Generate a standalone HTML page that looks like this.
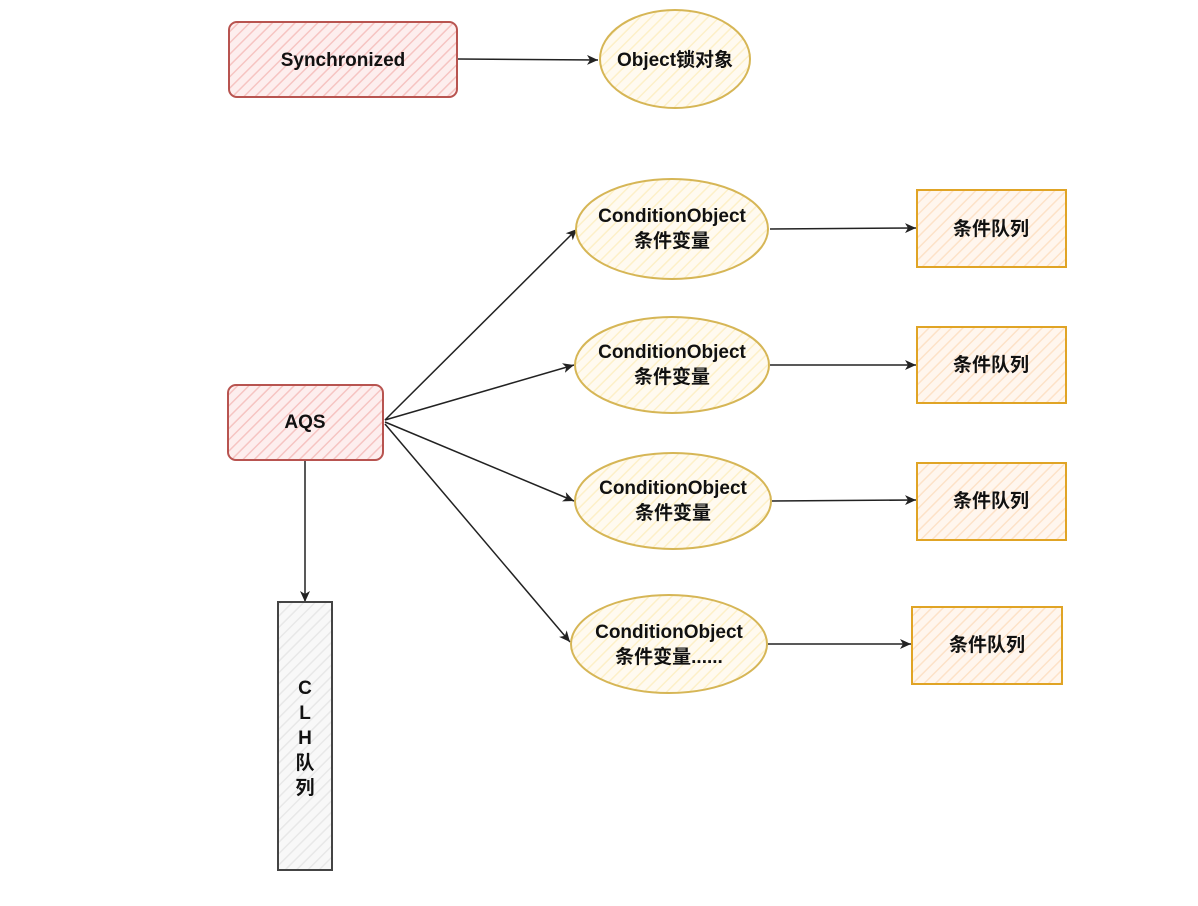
<!DOCTYPE html>
<html><head><meta charset="utf-8"><style>
html,body{margin:0;padding:0;background:#fff;}
svg text{font-family:"Liberation Sans","Noto Sans CJK SC",sans-serif;font-weight:bold;font-size:19px;fill:#111;text-anchor:middle;}
</style></head><body>
<svg width="1198" height="901" viewBox="0 0 1198 901" xmlns="http://www.w3.org/2000/svg">
<defs>
<pattern id="hr" width="8" height="8" patternUnits="userSpaceOnUse" patternTransform="rotate(45)"><rect width="8" height="8" fill="#fdeeee"/><line x1="0" y1="0" x2="0" y2="8" stroke="#f6c4c2" stroke-width="3"/></pattern>
<pattern id="hy" width="8" height="8" patternUnits="userSpaceOnUse" patternTransform="rotate(45)"><rect width="8" height="8" fill="#fffaf0"/><line x1="0" y1="0" x2="0" y2="8" stroke="#fdf0c8" stroke-width="3"/></pattern>
<pattern id="ho" width="8" height="8" patternUnits="userSpaceOnUse" patternTransform="rotate(45)"><rect width="8" height="8" fill="#fff6ee"/><line x1="0" y1="0" x2="0" y2="8" stroke="#fde2c8" stroke-width="3"/></pattern>
<pattern id="hg" width="8" height="8" patternUnits="userSpaceOnUse" patternTransform="rotate(45)"><rect width="8" height="8" fill="#f8f8f8"/><line x1="0" y1="0" x2="0" y2="8" stroke="#e8e8e8" stroke-width="3"/></pattern>
<marker id="ar" markerWidth="12" markerHeight="10" refX="11" refY="5" orient="auto" markerUnits="userSpaceOnUse"><path d="M0,0 L11,5 L0,10 L3,5 Z" fill="#222"/></marker>
</defs>
<g stroke="#222" stroke-width="1.5" fill="none" marker-end="url(#ar)">
<line x1="458" y1="59" x2="598" y2="60"/>
<line x1="770" y1="229" x2="916" y2="228"/>
<line x1="770" y1="365" x2="916" y2="365"/>
<line x1="772" y1="501" x2="916" y2="500"/>
<line x1="768" y1="644" x2="911" y2="644"/>
<line x1="385" y1="420" x2="577" y2="229"/>
<line x1="385" y1="420" x2="574" y2="365"/>
<line x1="385" y1="422" x2="574" y2="501"/>
<line x1="385" y1="424" x2="570" y2="642"/>
<line x1="305" y1="461" x2="305" y2="602"/>
</g>
<rect x="229" y="22" width="228" height="75" rx="8" fill="url(#hr)" stroke="#b85450" stroke-width="2"/>
<text x="343" y="66">Synchronized</text>
<ellipse cx="675" cy="59" rx="75" ry="49" fill="url(#hy)" stroke="#d6b656" stroke-width="2"/>
<text x="675" y="66">Object锁对象</text>
<rect x="228" y="385" width="155" height="75" rx="8" fill="url(#hr)" stroke="#b85450" stroke-width="2"/>
<text x="305" y="428">AQS</text>
<rect x="278" y="602" width="54" height="268" fill="url(#hg)" stroke="#444" stroke-width="2"/>
<text x="305" y="694">C</text><text x="305" y="719">L</text><text x="305" y="744">H</text><text x="305" y="769">队</text><text x="305" y="794">列</text>
<g fill="url(#hy)" stroke="#d6b656" stroke-width="2">
<ellipse cx="672" cy="229" rx="96" ry="50"/>
<ellipse cx="672" cy="365" rx="97" ry="48"/>
<ellipse cx="673" cy="501" rx="98" ry="48"/>
<ellipse cx="669" cy="644" rx="98" ry="49"/>
</g>
<text x="672" y="222">ConditionObject</text><text x="672" y="247">条件变量</text>
<text x="672" y="358">ConditionObject</text><text x="672" y="383">条件变量</text>
<text x="673" y="494">ConditionObject</text><text x="673" y="519">条件变量</text>
<text x="669" y="638">ConditionObject</text><text x="669" y="663">条件变量......</text>
<g fill="url(#ho)" stroke="#e0a425" stroke-width="2">
<rect x="917" y="190" width="149" height="77"/>
<rect x="917" y="327" width="149" height="76"/>
<rect x="917" y="463" width="149" height="77"/>
<rect x="912" y="607" width="150" height="77"/>
</g>
<text x="991" y="235">条件队列</text>
<text x="991" y="371">条件队列</text>
<text x="991" y="507">条件队列</text>
<text x="987" y="651">条件队列</text>
</svg>
</body></html>
